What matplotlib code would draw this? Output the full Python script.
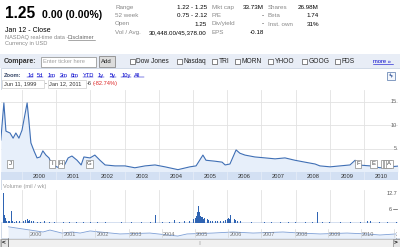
import matplotlib.pyplot as plt
from matplotlib.patches import Rectangle
from matplotlib.transforms import blended_transform_factory

plt.rcParams['font.family'] = ['Liberation Sans', 'DejaVu Sans']

W, H = 400, 247

# ---- quote header data ----
quote_price = '1.25'
quote_change = '0.00 (0.00%)'
stats_left = [('Range', '1.22 - 1.25'), ('52 week', '0.75 - 2.12'),
              ('Open', '1.25'), ('Vol / Avg.', '30,448.00/45,378.00')]
stats_mid = [('Mkt cap', '33.73M'), ('P/E', '-'), ('Div/yield', '-'), ('EPS', '-0.18')]
stats_right = [('Shares', '26.98M'), ('Beta', '1.74'), ('Inst. own', '31%')]
compare_tickers = ['Dow Jones', 'Nasdaq', 'TRI', 'MORN', 'YHOO', 'GOOG', 'FDS']
zoom_links = ['1d', '5d', '1m', '3m', '6m', 'YTD', '1y', '5y', '10y', 'All']
years = list(range(2000, 2011))

# ---- price (decimal year, USD) ----
price_years = [1999.38, 1999.47, 1999.53, 1999.65, 1999.74, 1999.82, 1999.91, 2000.00,
               2000.15, 2000.20, 2000.26, 2000.35, 2000.44, 2000.53, 2000.61, 2000.70,
               2000.79, 2000.88, 2001.05, 2001.23, 2001.35, 2001.46, 2001.61, 2001.73,
               2001.81, 2001.99, 2002.13, 2002.28, 2002.43, 2002.72, 2003.01, 2003.30,
               2003.60, 2003.89, 2004.18, 2004.56, 2004.91, 2005.09, 2005.29, 2005.38,
               2005.64, 2005.85, 2005.94, 2006.08, 2006.26, 2006.37, 2006.52, 2006.81,
               2007.11, 2007.40, 2007.69, 2007.98, 2008.27, 2008.57, 2008.71, 2009.01,
               2009.30, 2009.59, 2009.74, 2009.82, 2010.18, 2010.47, 2010.76, 2010.99]
price_usd = [6.8, 14.7, 8.7, 8.3, 7.2, 8.3, 7.2, 8.9,
             14.7, 11.0, 6.2, 4.5, 3.0, 3.2, 4.5, 3.6,
             3.0, 1.5, 1.0, 1.3, 3.0, 3.4, 2.5, 1.5,
             3.2, 3.0, 3.6, 2.5, 1.5, 1.3, 1.3, 0.9,
             1.3, 1.5, 1.1, 0.5, 1.1, 1.3, 3.6, 2.5,
             2.3, 2.1, 1.5, 1.7, 4.7, 4.0, 3.6, 3.2,
             3.0, 2.8, 3.0, 2.5, 2.1, 1.7, 1.3, 1.1,
             1.3, 1.5, 2.5, 1.5, 1.3, 0.9, 1.1, 1.25]

# news flags; D, C, B sit stacked underneath A
event_labels = ['J', 'I', 'H', 'G', 'F', 'E', 'D', 'C', 'B', 'A']
event_years = [1999.65, 2000.88, 2001.14, 2001.97, 2009.82, 2010.28,
               2010.60, 2010.64, 2010.68, 2010.74]

# ---- weekly volume (decimal year, millions) ----
vol_years = [1999.45, 1999.47, 1999.49, 1999.51, 1999.53, 1999.56, 1999.60, 1999.64,
             1999.68, 1999.72, 1999.78, 1999.85, 1999.92, 2000.00, 2000.05, 2000.10,
             2000.15, 2000.18, 2000.22, 2000.28, 2000.35, 2000.45, 2000.55, 2000.65,
             2000.80, 2000.95, 2001.20, 2001.40, 2001.60, 2001.80, 2002.00, 2002.20,
             2002.45, 2002.69, 2002.90, 2003.20, 2003.50, 2003.75, 2003.89, 2004.10,
             2004.30, 2004.47, 2004.60, 2004.75, 2004.90, 2005.02, 2005.06, 2005.10,
             2005.13, 2005.16, 2005.18, 2005.21, 2005.24, 2005.27, 2005.30, 2005.34,
             2005.38, 2005.42, 2005.46, 2005.52, 2005.58, 2005.65, 2005.72, 2005.80,
             2005.88, 2005.95, 2006.00, 2006.05, 2006.08, 2006.11, 2006.14, 2006.17,
             2006.20, 2006.25, 2006.30, 2006.40, 2006.55, 2006.70, 2006.90, 2007.10,
             2007.30, 2007.55, 2007.80, 2008.00, 2008.30, 2008.50, 2008.63, 2008.80,
             2009.00, 2009.30, 2009.60, 2009.90, 2010.10, 2010.20, 2010.45, 2010.70,
             2010.95]
vol_mil = [1.2, 13.0, 3.5, 2.0, 1.6, 1.0, 0.8, 0.9,
           5.3, 0.7, 0.6, 0.8, 0.9, 0.8, 1.0, 1.2,
           1.6, 1.0, 1.3, 0.9, 0.7, 0.6, 0.5, 0.8,
           0.5, 0.4, 0.5, 0.6, 0.4, 0.5, 0.6, 0.5,
           0.4, 2.2, 0.4, 0.5, 0.4, 0.5, 3.5, 0.4,
           0.5, 1.4, 0.6, 0.8, 0.7, 1.6, 2.2, 3.0,
           4.8, 7.4, 5.0, 3.2, 2.5, 2.8, 1.8, 2.2,
           1.5, 1.7, 1.2, 1.0, 0.9, 0.8, 0.9, 0.7,
           1.0, 1.3, 1.6, 2.0, 1.8, 3.5, 2.8, 2.4,
           1.6, 1.3, 1.0, 0.8, 0.7, 0.6, 0.5, 0.6,
           0.5, 0.4, 0.6, 0.5, 0.4, 0.5, 4.9, 0.4,
           0.5, 0.4, 0.5, 0.4, 1.0, 0.7, 0.5, 0.4,
           0.5]

# ---- navigator overview line (decimal year, relative level) ----
nav_years = [1999.37, 2000.03, 2000.42, 2000.63, 2000.99, 2001.30, 2001.54, 2001.84,
             2002.14, 2002.74, 2003.64, 2004.48, 2004.76, 2005.54, 2006.14, 2006.75,
             2007.65, 2008.16, 2008.77, 2009.58, 2010.18, 2010.57, 2011.05]
nav_level = [7.5, 5.3, 4.0, 5.3, 3.3, 4.0, 3.3, 4.7,
             4.0, 2.7, 3.3, 1.3, 2.7, 3.3, 4.0, 3.3,
             4.0, 3.3, 2.7, 3.3, 2.7, 2.0, 2.7]

GRAY = '#888888'
LINK = '#0000cc'
GRID = '#e2e2e2'


def pt(px):
    return px * 0.72


def rect_axes(x0, y0, x1, y1):
    a = fig.add_axes([x0 / W, 1 - y1 / H, (x1 - x0) / W, (y1 - y0) / H])
    a.set_xticks([])
    a.set_yticks([])
    for s in a.spines.values():
        s.set_visible(False)
    return a


fig = plt.figure(figsize=(4, 2.47), dpi=100)
cv = fig.add_axes([0, 0, 1, 1])
cv.set_xlim(0, W)
cv.set_ylim(H, 0)
cv.axis('off')

# header
cv.text(4.5, 18, quote_price, fontsize=pt(15.5), fontweight='bold', va='baseline')
cv.text(42, 18.5, quote_change, fontsize=pt(10.5), fontweight='bold', va='baseline')
cv.text(5, 31.5, 'Jan 12 - Close', fontsize=pt(7), va='baseline')
cv.text(5, 39.3, 'NASDAQ real-time data - ', fontsize=pt(5.6), color=GRAY, va='baseline')
cv.text(67.5, 39.3, 'Disclaimer', fontsize=pt(5.6), color='#666666', va='baseline')
cv.plot([67.5, 95], [40.3, 40.3], color='#666666', lw=0.4)
cv.text(5, 45.5, 'Currency in USD', fontsize=pt(5.6), color=GRAY, va='baseline')

rows = [7.8, 15.3, 24.0, 32.8]
for (lab, val), y in zip(stats_left, rows):
    cv.text(115, y, lab, fontsize=pt(6.3), color=GRAY, va='center')
    cv.text(207, y, val, fontsize=pt(6.3), color='black', va='center', ha='right')
for (lab, val), y in zip(stats_mid, rows):
    cv.text(212, y, lab, fontsize=pt(6.3), color=GRAY, va='center')
    cv.text(264, y, val, fontsize=pt(6.3), color='black', va='center', ha='right')
for (lab, val), y in zip(stats_right, rows):
    cv.text(268, y, lab, fontsize=pt(6.3), color=GRAY, va='center')
    cv.text(319, y, val, fontsize=pt(6.3), color='black', va='center', ha='right')

# compare bar
cv.add_patch(Rectangle((0, 54), W, 14, fc='#e8edf6', ec='none'))
cv.text(4, 61.5, 'Compare:', fontsize=pt(7), fontweight='bold', color='#333333', va='center')
cv.add_patch(Rectangle((41, 56.5), 55, 10, fc='white', ec='#9a9a9a', lw=0.6))
cv.text(43, 61.5, 'Enter ticker here', fontsize=pt(5.8), color='#a0a0a0', va='center')
cv.add_patch(Rectangle((98.5, 56), 16, 11, fc='#dcdcdc', ec='#8a8a8a', lw=0.6))
cv.text(106.5, 61.5, 'Add', fontsize=pt(6), color='#222222', va='center', ha='center')
cb_x = [130, 177, 212, 235, 268, 302, 335]
for name, x in zip(compare_tickers, cb_x):
    cv.add_patch(Rectangle((x, 59), 4.5, 4.5, fc='white', ec='#555555', lw=0.5))
    cv.text(x + 6.5, 61.5, name, fontsize=pt(6.6), color='#222222', va='center')
cv.text(373, 61, 'more \u00bb', fontsize=pt(5.8), color=LINK, va='center')
cv.plot([373, 393], [64, 64], color=LINK, lw=0.4)

# chart panel
cv.add_patch(Rectangle((0.5, 68), W - 1, 170, fc='white', ec='#c9d3e3', lw=0.6))
cv.text(4, 75, 'Zoom:', fontsize=pt(5.8), fontweight='bold', color='#3a4a6a', va='center')
zl_x = [27, 37, 48, 60, 71, 83, 98, 110, 121, 134]
for lab, x in zip(zoom_links, zl_x):
    cv.text(x, 75, lab, fontsize=pt(5.8), color=LINK, va='center')
    cv.plot([x, x + 3.2 * len(lab)], [77.3, 77.3], color=LINK, lw=0.35)
cv.add_patch(Rectangle((2, 79.5), 41.5, 8, fc='white', ec='#cccccc', lw=0.5))
cv.text(3.5, 83.5, 'Jun 11, 1999', fontsize=pt(5.6), color='#333333', va='center')
cv.text(44.5, 83.5, '-', fontsize=pt(5.6), color='#333333', va='center')
cv.add_patch(Rectangle((47.5, 79.5), 38.5, 8, fc='white', ec='#cccccc', lw=0.5))
cv.text(49, 83.5, 'Jan 12, 2011', fontsize=pt(5.6), color='#333333', va='center')
cv.text(87, 83.5, '-6', fontsize=pt(5.6), color='#333333', va='center')
cv.text(93, 83.5, '(-82.74%)', fontsize=pt(5.6), color='#dd2222', va='center')
cv.add_patch(Rectangle((387, 71.5), 8, 8, fc='#f4f7fc', ec='#5577aa', lw=0.5))
cv.annotate('', xy=(393.5, 78), xytext=(388.5, 73),
            arrowprops=dict(arrowstyle='<->', color='#335599', lw=0.5,
                            mutation_scale=3))

# price chart
yr_per_px = 1 / 34.2
x_lo = 2000 + (1 - 22) * yr_per_px
x_hi = 2000 + (398 - 22) * yr_per_px
ax = rect_axes(1, 90, 398, 172)
ax.set_xlim(x_lo, x_hi)
ax.set_ylim(0, 17.45)
for yv in (5, 10, 15):
    ax.axhline(yv, color=GRID, lw=0.6, zorder=0)
for yr in years:
    ax.axvline(yr, color=GRID, lw=0.6, zorder=0)
ax.fill_between(price_years, price_usd, color='#e7effa', lw=0, zorder=1)
ax.plot(price_years, price_usd, color='#3f6fb5', lw=0.8, zorder=2)
bt = blended_transform_factory(ax.transAxes, ax.transData)
for yv in (5, 10, 15):
    ax.text(0.997, yv, str(yv), transform=bt, fontsize=pt(5.5), color='#666666',
            ha='right', va='center')
et = blended_transform_factory(ax.transData, ax.transAxes)
box_w = 6.5 * yr_per_px
for i, (lab, ey) in enumerate(zip(event_labels, event_years)):
    ax.add_patch(Rectangle((ey - box_w / 2, 0.05), box_w, 0.098, transform=et,
                           fc='white', ec='#8a8a8a', lw=0.5, zorder=5 + i))
    covered = i + 1 < len(event_years) and event_years[i + 1] - ey < box_w
    if not covered:
        ax.text(ey, 0.1, lab, transform=et, fontsize=pt(6), color='#444444',
                ha='center', va='center', zorder=5 + i)

# year band
band = rect_axes(1, 172, 398, 180)
band.set_facecolor('#d3e0f3')
band.set_xlim(x_lo, x_hi)
band.set_ylim(0, 1)
for yr in years:
    band.axvline(yr, color='#e8eef8', lw=0.5)
    band.text(yr + 0.5, 0.5, str(yr), fontsize=pt(5.8), color='#333333',
              ha='center', va='center')

# volume
cv.text(3, 186, 'Volume (mil / wk)', fontsize=pt(5.6), color='#999999', va='center')
vax = rect_axes(1, 190, 398, 223)
vax.set_xlim(x_lo, x_hi)
vax.set_ylim(0, 14.45)
for yr in years:
    vax.axvline(yr, color=GRID, lw=0.6, zorder=0)
vax.bar(vol_years, vol_mil, width=0.028, color='#2f64b3', lw=0, zorder=2)
vax.axhline(0.15, color='#2f64b3', lw=1.0, zorder=2)
vbt = blended_transform_factory(vax.transAxes, vax.transData)
vax.text(0.999, 12.7, '12.7', transform=vbt, fontsize=pt(5.5), color='#555555',
         ha='right', va='center')
vax.text(0.985, 6, '6', transform=vbt, fontsize=pt(5.5), color='#555555',
         ha='right', va='center')
vax.plot([0.988, 0.998], [6, 6], transform=vbt, color='#555555', lw=0.5)

# navigator
nav = rect_axes(8, 223, 397, 238)
nav.set_xlim(2000 - 21 / 33.2, 2000 + 368 / 33.2)
nav.set_ylim(0, 10)
nav.fill_between(nav_years, nav_level, color='#eaf1fb', lw=0)
nav.plot(nav_years, nav_level, color='#7d9fd6', lw=0.6)
for yr in years + [2011]:
    nav.axvline(yr, ymin=0.05, ymax=0.6, color='#cccccc', lw=0.4)
    nav.text(yr + 0.03, 2.6, str(yr), fontsize=pt(5.5), color='#777777',
             ha='left', va='center', clip_on=True)
cv.plot([8, 8], [223, 247], color='#777777', lw=0.6)
cv.plot([8, 396], [223, 223], color='#888888', lw=0.6)
cv.plot([396, 396], [223, 238], color='#888888', lw=0.6)

# scrollbar
cv.add_patch(Rectangle((0, 238.5), W, 8, fc='#f0f0f0', ec='#b0b0b0', lw=0.5))
cv.add_patch(Rectangle((0.5, 238.5), 7, 8, fc='#e4e4e4', ec='#888888', lw=0.5))
cv.add_patch(Rectangle((392.5, 238.5), 7, 8, fc='#e4e4e4', ec='#888888', lw=0.5))
cv.text(4, 242.5, '<', fontsize=pt(6.5), fontweight='bold', ha='center', va='center')
cv.text(396, 242.5, '>', fontsize=pt(6.5), fontweight='bold', ha='center', va='center')
cv.text(200, 242.5, '|||', fontsize=pt(4), color='#aaaaaa', ha='center', va='center')

fig.savefig('out.png', dpi=100)
